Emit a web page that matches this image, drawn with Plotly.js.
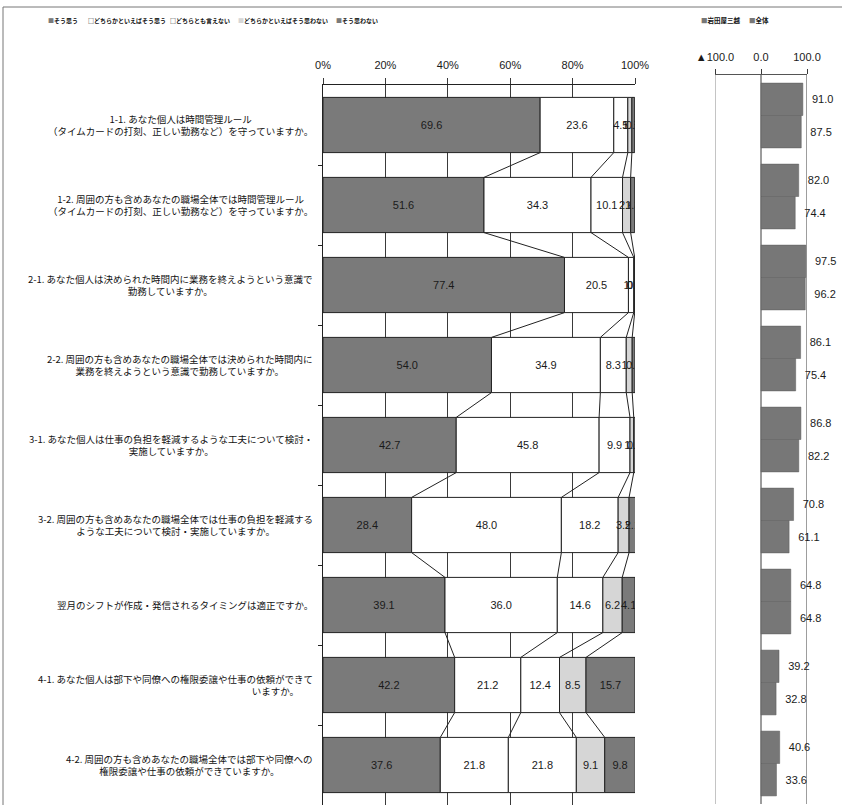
<!DOCTYPE html>
<html>
<head>
<meta charset="utf-8">
<script src="https://cdn.plot.ly/plotly-3.0.1.min.js"></script>
<style>html,body{margin:0;padding:0;background:#fff;}#chart{width:842px;height:805px;}</style>
</head>
<body>
<div id="chart"></div>
<script>
// ---- data ----
const categories = [
  "1-1. あなた個人は時間管理ルール<br>（タイムカードの打刻、正しい勤務など）を守っていますか。",
  "1-2. 周囲の方も含めあなたの職場全体では時間管理ルール<br>（タイムカードの打刻、正しい勤務など）を守っていますか。",
  "2-1. あなた個人は決められた時間内に業務を終えようという意識で<br>勤務していますか。",
  "2-2. 周囲の方も含めあなたの職場全体では決められた時間内に<br>業務を終えようという意識で勤務していますか。",
  "3-1. あなた個人は仕事の負担を軽減するような工夫について検討・<br>実施していますか。",
  "3-2. 周囲の方も含めあなたの職場全体では仕事の負担を軽減する<br>ような工夫について検討・実施していますか。",
  "翌月のシフトが作成・発信されるタイミングは適正ですか。",
  "4-1. あなた個人は部下や同僚への権限委譲や仕事の依頼ができて<br>\u3000\u3000\u3000\u3000\u3000\u3000\u3000\u3000\u3000\u3000\u3000\u3000\u3000\u3000\u3000\u3000\u3000\u3000\u3000\u3000\u3000いますか。",
  "4-2. 周囲の方も含めあなたの職場全体では部下や同僚への<br>権限委譲や仕事の依頼ができていますか。"
];
const seriesNames = ["そう思う", "どちらかといえばそう思う", "どちらとも言えない", "どちらかといえばそう思わない", "そう思わない"];
const soOmou      = [69.6, 51.6, 77.4, 54.0, 42.7, 28.4, 39.1, 42.2, 37.6];
const dochiraSo   = [23.6, 34.3, 20.5, 34.9, 45.8, 48.0, 36.0, 21.2, 21.8];
const dochiraMo   = [4.5, 10.1, 1.7, 8.3, 9.9, 18.2, 14.6, 12.4, 21.8];
const dochiraNot  = [1.3, 2.6, 0.3, 1.9, 1.2, 3.5, 6.2, 8.5, 9.1];
const omowanai    = [0.9, 1.3, 0.1, 0.9, 0.5, 2.1, 4.1, 15.7, 9.8];

const groupNames = ["岩田屋三越", "全体"];
const iwataya = [91.0, 82.0, 97.5, 86.1, 86.8, 70.8, 64.8, 39.2, 40.6];
const zentai  = [87.5, 74.4, 96.2, 75.4, 82.2, 61.1, 64.8, 32.8, 33.6];

const leftTicks = [0, 20, 40, 60, 80, 100];
const leftTickText = ["0%", "20%", "40%", "60%", "80%", "100%"];
const rightTicks = [-100, 0, 100];
const rightTickText = ["▲100.0", "0.0", "100.0"];

// ---- styles ----
const DARK = "#7a7a7a";
const LIGHT = "#d6d6d6";
const WHITE = "#ffffff";
const segColors = [DARK, WHITE, WHITE, LIGHT, DARK];
const BARW = 0.69;
const numFont = {family: "Liberation Sans, Arial, sans-serif", size: 11, color: "#1a1a1a"};
const jpFont = "Noto Sans CJK JP, sans-serif";

const idx = categories.map((_, i) => i);
const segs = [soOmou, dochiraSo, dochiraMo, dochiraNot, omowanai];

// cumulative bases
const bases = [];
let run = idx.map(() => 0);
segs.forEach(s => { bases.push(run.slice()); run = run.map((v, i) => v + s[i]); });

const traces = [];
segs.forEach((s, k) => {
  traces.push({
    type: "bar", orientation: "h", name: seriesNames[k],
    x: s, y: idx, base: bases[k], width: BARW, offset: -BARW / 2,
    xaxis: "x", yaxis: "y",
    marker: {color: segColors[k], line: {color: "#222", width: 1}},
    text: s.map(v => v.toFixed(1)), textposition: "inside", insidetextanchor: "middle",
    textangle: 0, constraintext: "none", insidetextfont: numFont,
    hoverinfo: "x+name"
  });
});

// series lines between stacked bars
const lx = [], ly = [];
for (let i = 0; i < idx.length - 1; i++) {
  for (let k = 1; k < segs.length; k++) {
    lx.push(bases[k][i], bases[k][i + 1], null);
    ly.push(idx[i] + BARW / 2, idx[i + 1] - BARW / 2, null);
  }
}
traces.push({
  type: "scatter", mode: "lines", x: lx, y: ly, xaxis: "x", yaxis: "y",
  line: {color: "#222", width: 1}, hoverinfo: "skip", showlegend: false, cliponaxis: false
});

// right chart
[iwataya, zentai].forEach((s, k) => {
  traces.push({
    type: "bar", orientation: "h", name: groupNames[k],
    x: s, y: idx, width: 0.4, offset: k === 0 ? -0.4 : 0,
    xaxis: "x2", yaxis: "y2",
    marker: {color: "#777777", line: {color: "#5a5a5a", width: 0.5}},
    text: s.map(v => "\u00a0\u00a0" + v.toFixed(1)), textposition: "outside",
    textangle: 0, constraintext: "none", cliponaxis: false, outsidetextfont: numFont
  });
});

// annotations: category labels + legends
const annotations = categories.map((c, i) => ({
  text: c, x: 315 / 842, xref: "paper", xanchor: "right", y: i, yref: "y", yanchor: "middle",
  align: "center", showarrow: false,
  font: {family: jpFont, size: 9.5, color: "#111"}
}));
const legendX = [46, 86, 168, 236, 334];
seriesNames.forEach((n, k) => {
  const sym = segColors[k] === WHITE ? "<span style='color:#222'>□</span>" :
    "<span style='color:" + segColors[k] + "'>■</span>";
  annotations.push({
    text: sym + n, x: legendX[k] / 842, xref: "paper", xanchor: "left",
    y: 1 - 20 / 805, yref: "paper", yanchor: "middle", showarrow: false,
    font: {family: jpFont, size: 6, color: "#111", weight: "bold"}
  });
});
const legend2X = [699, 747];
groupNames.forEach((n, k) => {
  annotations.push({
    text: "<span style='color:#777777'>■</span>" + n, x: legend2X[k] / 842, xref: "paper", xanchor: "left",
    y: 1 - 20 / 805, yref: "paper", yanchor: "middle", showarrow: false,
    font: {family: jpFont, size: 6.5, color: "#111", weight: "bold"}
  });
});

// vertical guide lines of the right chart, placed through its x scale
const rightLines = rightTicks.map(t => ({
  type: "line", xref: "x2", yref: "y2 domain", x0: t, x1: t, y0: 0, y1: 1, layer: "below",
  line: {color: t < 0 ? "#8a8a8a" : "#3a3a3a", width: 1}
}));

const layout = {
  width: 842, height: 805,
  margin: {l: 0, r: 0, t: 0, b: 0},
  paper_bgcolor: "#fff", plot_bgcolor: "rgba(0,0,0,0)",
  barmode: "overlay", showlegend: false,
  xaxis: {
    domain: [323 / 842, 635 / 842], range: [0, 100], side: "top",
    tickvals: leftTicks, ticktext: leftTickText, tickfont: numFont,
    showgrid: true, gridcolor: "#3a3a3a", gridwidth: 1, zeroline: false,
    showline: true, linecolor: "#222", linewidth: 1,
    ticks: "outside", ticklen: 6, tickcolor: "#3a3a3a", ticklabelstandoff: 5,
    anchor: "y", fixedrange: true
  },
  yaxis: {
    domain: [0, 1 - 85 / 805], range: [idx.length - 0.5, -0.5],
    tickvals: idx.map(i => i + 0.5), showticklabels: false,
    ticks: "outside", ticklen: 4, tickcolor: "#222",
    showgrid: false, zeroline: false, showline: true, linecolor: "#222", linewidth: 1,
    anchor: "x", fixedrange: true
  },
  xaxis2: {
    domain: [715 / 842, 807 / 842], range: [-100, 100], side: "top",
    tickvals: rightTicks, ticktext: rightTickText, tickfont: numFont,
    showgrid: false, zeroline: false,
    showline: true, linecolor: "#555", linewidth: 1,
    ticks: "outside", ticklen: 5, tickcolor: "#3a3a3a", ticklabelstandoff: 4,
    anchor: "y2", fixedrange: true
  },
  yaxis2: {
    domain: [1 / 805, 1 - 75 / 805], range: [idx.length - 0.5, -0.5],
    showticklabels: false, ticks: "", showgrid: false, zeroline: false, showline: false,
    anchor: "x2", fixedrange: true
  },
  annotations: annotations,
  shapes: rightLines.concat([
    {type: "line", xref: "paper", yref: "paper", x0: 3 / 842, x1: 1, y0: 1 - 7 / 805, y1: 1 - 7 / 805, line: {color: "#777", width: 1}},
    {type: "line", xref: "paper", yref: "paper", x0: 3 / 842, x1: 3 / 842, y0: 0, y1: 1 - 7 / 805, line: {color: "#777", width: 1}}
  ])
};

Plotly.newPlot("chart", traces, layout, {displayModeBar: false, staticPlot: true});
</script>
</body>
</html>
